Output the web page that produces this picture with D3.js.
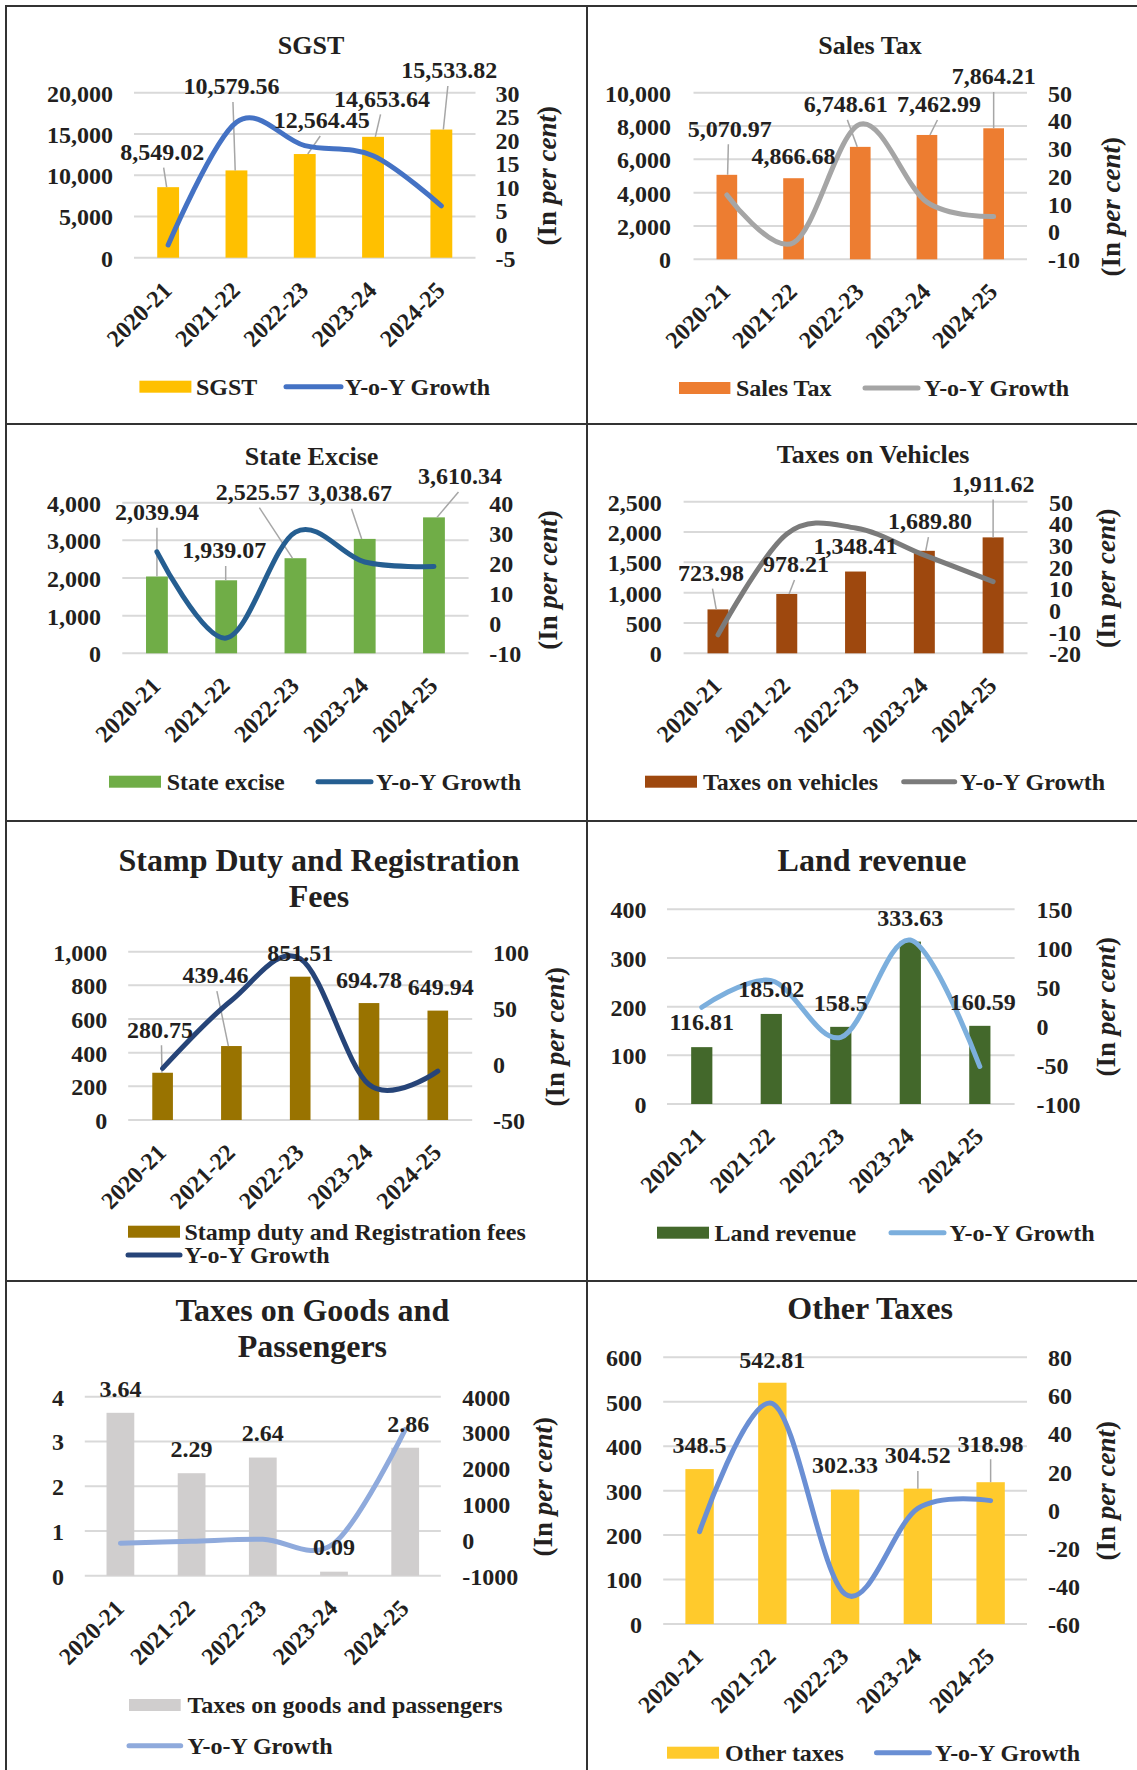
<!DOCTYPE html>
<html><head><meta charset="utf-8">
<script src="https://cdn.jsdelivr.net/npm/d3@7"></script>
<style>
body{margin:0;background:#fff}
svg{display:block}
text{font-family:"Liberation Serif","Times New Roman",serif;font-weight:bold;fill:#231f20}
</style>
</head><body>
<svg id="c" width="1137" height="1770"></svg>
<script>
// ---------- DATA ----------
const categories = ["2020-21", "2021-22", "2022-23", "2023-24", "2024-25"];

const sgstValues = [8549.02, 10579.56, 12564.45, 14653.64, 15533.82];
const sgstGrowth = [-2.3, 23.75, 18.76, 16.63, 6.01];
const sgstTicks = [0, 5000, 10000, 15000, 20000];
const sgstGrowthTicks = [-5, 0, 5, 10, 15, 20, 25, 30];

const salesValues = [5070.97, 4866.68, 6748.61, 7462.99, 7864.21];
const salesGrowth = [13.2, -4.03, 38.67, 10.59, 5.38];
const salesTicks = [0, 2000, 4000, 6000, 8000, 10000];
const salesGrowthTicks = [-10, 0, 10, 20, 30, 40, 50];

const exciseValues = [2039.94, 1939.07, 2525.57, 3038.67, 3610.34];
const exciseGrowth = [23.7, -4.94, 30.25, 20.32, 18.81];
const exciseTicks = [0, 1000, 2000, 3000, 4000];
const exciseGrowthTicks = [-10, 0, 10, 20, 30, 40];

const vehicleValues = [723.98, 978.21, 1348.41, 1689.80, 1911.62];
const vehicleGrowth = [-11.5, 35.12, 37.85, 25.32, 13.13];
const vehicleTicks = [0, 500, 1000, 1500, 2000, 2500];
const vehicleGrowthTicks = [-20, -10, 0, 10, 20, 30, 40, 50];

const stampValues = [280.75, 439.46, 851.51, 694.78, 649.94];
const stampGrowth = [-4.0, 56.53, 93.76, -18.41, -6.45];
const stampTicks = [0, 200, 400, 600, 800, 1000];
const stampGrowthTicks = [-50, 0, 50, 100];

const landValues = [116.81, 185.02, 158.5, 333.63, 160.59];
const landGrowth = [24.2, 58.39, -14.33, 110.49, -51.87];
const landTicks = [0, 100, 200, 300, 400];
const landGrowthTicks = [-100, -50, 0, 50, 100, 150];

const goodsValues = [3.64, 2.29, 2.64, 0.09, 2.86];
const goodsGrowth = [-95, -37.09, 15.28, -96.59, 3077.8];
const goodsTicks = [0, 1, 2, 3, 4];
const goodsGrowthTicks = [-1000, 0, 1000, 2000, 3000, 4000];

const otherValues = [348.5, 542.81, 302.33, 304.52, 318.98];
const otherGrowth = [-11.5, 55.76, -44.3, 0.72, 4.75];
const otherTicks = [0, 100, 200, 300, 400, 500, 600];
const otherGrowthTicks = [-60, -40, -20, 0, 20, 40, 60, 80];

// ---------- PANEL LAYOUT ----------
const panels = [
  { title: ["SGST"], titleX: 311, titleY: 45, titleSize: 26, titleGap: 0,
    barName: "SGST", values: sgstValues, growth: sgstGrowth, ticks: sgstTicks, gTicks: sgstGrowthTicks,
    fmt: ",.2f", plot: [134, 475.5, 92.7, 257.7], leftX: 113, rightX: 495.5, axT: [547, 175.7],
    ratio: 0.32, barColor: "#FFC000", lineColor: "#4472C4",
    labels: [[-6, -35.5, 1], [-5, -84.4, 1], [17, -34, 1], [9, -38.5, 1], [8, -59.5, 1]],
    legend: { bar: [139.4, 191.4, 386.7, 196], line: [286, 341, 386.7, 345] } },
  { title: ["Sales Tax"], titleX: 870, titleY: 45, titleSize: 26, titleGap: 0,
    barName: "Sales Tax", values: salesValues, growth: salesGrowth, ticks: salesTicks, gTicks: salesGrowthTicks,
    fmt: ",.2f", plot: [693.5, 1027, 92.7, 259.3], leftX: 671, rightX: 1048, axT: [1111, 206.7],
    ratio: 0.31, barColor: "#ED7D31", lineColor: "#A5A5A5",
    labels: [[3, -46.5, 1], [0, -23, 0], [-14.4, -43, 1], [12, -31, 1], [0, -52.3, 1]],
    legend: { bar: [679, 730.4, 388, 736], line: [865, 918, 388, 924] } },
  { title: ["State Excise"], titleX: 311.6, titleY: 456, titleSize: 26, titleGap: 0,
    barName: "State excise", values: exciseValues, growth: exciseGrowth, ticks: exciseTicks, gTicks: exciseGrowthTicks,
    fmt: ",.2f", plot: [122.3, 468.6, 502.7, 653.3], leftX: 101, rightX: 489.3, axT: [547.6, 580],
    ratio: 0.315, barColor: "#70AD47", lineColor: "#255E91",
    labels: [[0, -64.8, 1], [-2, -30.3, 1], [-37.6, -66.5, 1], [-14.7, -46.2, 1], [26, -41.4, 1]],
    legend: { bar: [109, 161, 781.7, 166.7], line: [318, 371, 781.7, 376] } },
  { title: ["Taxes on Vehicles"], titleX: 873, titleY: 454.3, titleSize: 26, titleGap: 0,
    barName: "Taxes on vehicles", values: vehicleValues, growth: vehicleGrowth, ticks: vehicleTicks, gTicks: vehicleGrowthTicks,
    fmt: ",.2f", plot: [683.6, 1027.5, 501.7, 653.3], leftX: 661.8, rightX: 1049, axT: [1106, 578.3],
    ratio: 0.305, barColor: "#9E480E", lineColor: "#7B7B7B",
    labels: [[-7, -36.7, 1], [9.2, -30, 1], [0, -25.5, 0], [5.6, -29.8, 1], [0, -54, 1]],
    legend: { bar: [645, 697, 781.7, 703], line: [903.7, 954.7, 781.7, 960] } },
  { title: ["Stamp Duty and Registration", "Fees"], titleX: 319, titleY: 859.3, titleSize: 32, titleGap: 36.7,
    barName: "Stamp duty and Registration fees", values: stampValues, growth: stampGrowth, ticks: stampTicks, gTicks: stampGrowthTicks,
    fmt: ",.2f", plot: [128.2, 472.2, 951.7, 1120], leftX: 107.3, rightX: 493, axT: [555, 1036.7],
    ratio: 0.30, barColor: "#997300", lineColor: "#264478",
    labels: [[-2.6, -43.4, 1], [-16, -71, 1], [0, -24, 0], [0, -23.7, 0], [3, -24, 0]],
    legend: { bar: [128, 180, 1231.7, 184.4], line: [128, 180, 1255, 184.4] } },
  { title: ["Land revenue"], titleX: 872, titleY: 859.3, titleSize: 32, titleGap: 0,
    barName: "Land revenue", values: landValues, growth: landGrowth, ticks: landTicks, gTicks: landGrowthTicks,
    fmt: ",", plot: [667, 1014.6, 909.3, 1104], leftX: 646.6, rightX: 1036.4, axT: [1106, 1006.7],
    ratio: 0.305, barColor: "#43682B", lineColor: "#7CAFDD",
    labels: [[0, -25.4, 0], [0, -25.7, 0], [0, -24, 0], [0, -24.3, 0], [3, -24, 0]],
    legend: { bar: [657, 709, 1232.7, 714.6], line: [891, 944, 1232.7, 949.4] } },
  { title: ["Taxes on Goods and", "Passengers"], titleX: 312.4, titleY: 1309.3, titleSize: 32, titleGap: 36.7,
    barName: "Taxes on goods and passengers", values: goodsValues, growth: goodsGrowth, ticks: goodsTicks, gTicks: goodsGrowthTicks,
    fmt: ",.2f", plot: [84.8, 440.8, 1396.7, 1575.7], leftX: 64, rightX: 462.2, axT: [542.7, 1486.7],
    ratio: 0.39, barColor: "#D0CECE", lineColor: "#8FAADC",
    labels: [[0, -24.5, 0], [0, -25, 0], [0, -25, 0], [0, -25, 0], [3, -23.7, 0]],
    legend: { bar: [129, 180.7, 1705, 187.4], line: [129, 180.7, 1745.7, 187.4] } },
  { title: ["Other Taxes"], titleX: 870.2, titleY: 1307.3, titleSize: 32, titleGap: 0,
    barName: "Other taxes", values: otherValues, growth: otherGrowth, ticks: otherTicks, gTicks: otherGrowthTicks,
    fmt: ",", plot: [663.2, 1027, 1357.3, 1624], leftX: 642, rightX: 1048, axT: [1106, 1490.7],
    ratio: 0.39, barColor: "#FFCA2C", lineColor: "#6A8FD4",
    labels: [[0, -24, 0], [0, -23.4, 0], [0, -24.6, 0], [0, -33.6, 1], [0, -39, 1]],
    legend: { bar: [667, 719, 1752.7, 725], line: [876.5, 929.4, 1752.7, 935] } }
];

const FS = 24;
const svg = d3.select("#c");
svg.append("rect").attr("width", 1137).attr("height", 1770).attr("fill", "#fff");

function drawPanel(p) {
  const g = svg.append("g");
  const [x0, x1, yTop, yBot] = p.plot;
  const pad = 1 - p.ratio;
  const x = d3.scaleBand().domain(categories).range([x0, x1]).paddingInner(pad).paddingOuter(pad / 2);
  const yL = d3.scaleLinear().domain([p.ticks[0], p.ticks[p.ticks.length - 1]]).range([yBot, yTop]);
  const yR = d3.scaleLinear().domain([p.gTicks[0], p.gTicks[p.gTicks.length - 1]]).range([yBot, yTop]);
  const cx = c => x(c) + x.bandwidth() / 2;

  // gridlines
  g.append("g").selectAll("line").data(p.ticks).join("line")
    .attr("x1", x0).attr("x2", x1).attr("y1", d => yL(d)).attr("y2", d => yL(d))
    .attr("stroke", "#D9D9D9").attr("stroke-width", 2);

  // left axis
  const la = g.append("g").attr("transform", `translate(${p.leftX},0)`)
    .call(d3.axisLeft(yL).tickValues(p.ticks).tickFormat(d3.format(",")).tickSize(0).tickPadding(0));
  la.select(".domain").remove();
  la.selectAll("text").attr("font-size", FS).attr("dy", "0.35em");
  la.attr("font-size", null).attr("font-family", null);

  // right axis
  const ra = g.append("g").attr("transform", `translate(${p.rightX},0)`)
    .call(d3.axisRight(yR).tickValues(p.gTicks).tickFormat(d => String(d)).tickSize(0).tickPadding(0));
  ra.select(".domain").remove();
  ra.selectAll("text").attr("font-size", FS).attr("dy", "0.35em");
  ra.attr("font-size", null).attr("font-family", null);

  // x axis (rotated labels)
  const xa = g.append("g").attr("transform", `translate(0,${yBot})`)
    .call(d3.axisBottom(x).tickSize(0).tickPadding(0));
  xa.select(".domain").remove();
  xa.selectAll("text").attr("font-size", FS).attr("text-anchor", "end")
    .attr("x", 0).attr("y", 0).attr("dy", 0)
    .attr("transform", "translate(5,34) rotate(-45)");
  xa.attr("font-size", null).attr("font-family", null);

  // bars
  g.append("g").selectAll("rect").data(p.values).join("rect")
    .attr("x", (d, i) => x(categories[i])).attr("width", x.bandwidth())
    .attr("y", d => yL(d)).attr("height", d => yL(0) - yL(d))
    .attr("fill", p.barColor);

  // leader lines
  p.values.forEach((v, i) => {
    const bx = cx(categories[i]);
    const top = yL(v);
    const [dx, dy, leader] = p.labels[i];
    const lx = bx + dx, ly = top + dy;
    if (leader) {
      const ex = bx + Math.max(-3, Math.min(3, dx * 0.25));
      g.append("line").attr("x1", lx + (dx === 0 ? 0 : -Math.sign(dx) * 1.5)).attr("y1", ly + 16)
        .attr("x2", ex).attr("y2", top)
        .attr("stroke", "#A6A6A6").attr("stroke-width", 1.5);
    }
  });

  // growth line
  const line = d3.line()
    .x((d, i) => cx(categories[i]))
    .y(d => yR(d))
    .curve(d3.curveCardinal.tension(0));
  g.append("path").datum(p.growth).attr("d", line)
    .attr("fill", "none").attr("stroke", p.lineColor).attr("stroke-width", 5)
    .attr("stroke-linecap", "round").attr("stroke-linejoin", "round");

  // data labels
  const fmt = d3.format(p.fmt);
  p.values.forEach((v, i) => {
    const bx = cx(categories[i]);
    const [dx, dy] = p.labels[i];
    g.append("text").attr("x", bx + dx).attr("y", yL(v) + dy).attr("dy", "0.35em")
      .attr("text-anchor", "middle").attr("font-size", FS).text(fmt(v));
  });

  // axis title
  const at = g.append("text").attr("transform", `translate(${p.axT[0]},${p.axT[1]}) rotate(-90)`)
    .attr("text-anchor", "middle").attr("dy", "0.35em").attr("font-size", 27);
  at.append("tspan").text("(In ");
  at.append("tspan").attr("font-style", "italic").text("per cent");
  at.append("tspan").text(")");

  // title
  p.title.forEach((t, k) => {
    g.append("text").attr("x", p.titleX).attr("y", p.titleY + k * p.titleGap).attr("dy", "0.35em")
      .attr("text-anchor", "middle").attr("font-size", p.titleSize).text(t);
  });

  // legend
  const lb = p.legend.bar, ll = p.legend.line;
  g.append("rect").attr("x", lb[0]).attr("y", lb[2] - 6).attr("width", lb[1] - lb[0]).attr("height", 12).attr("fill", p.barColor);
  g.append("text").attr("x", lb[3]).attr("y", lb[2]).attr("dy", "0.35em").attr("font-size", FS).text(p.barName);
  g.append("line").attr("x1", ll[0]).attr("x2", ll[1]).attr("y1", ll[2]).attr("y2", ll[2])
    .attr("stroke", p.lineColor).attr("stroke-width", 5).attr("stroke-linecap", "round");
  g.append("text").attr("x", ll[3]).attr("y", ll[2]).attr("dy", "0.35em").attr("font-size", FS).text("Y-o-Y Growth");
}

panels.forEach(drawPanel);

// frame / dividers
const frame = svg.append("g").attr("stroke", "#333").attr("stroke-width", 2);
frame.append("line").attr("x1", 5).attr("x2", 1137).attr("y1", 6).attr("y2", 6);
frame.append("line").attr("x1", 6).attr("x2", 6).attr("y1", 5).attr("y2", 1770);
frame.append("line").attr("x1", 587).attr("x2", 587).attr("y1", 6).attr("y2", 1770);
[424, 821, 1281].forEach(y => frame.append("line").attr("x1", 6).attr("x2", 1137).attr("y1", y).attr("y2", y));
</script>
</body></html>
